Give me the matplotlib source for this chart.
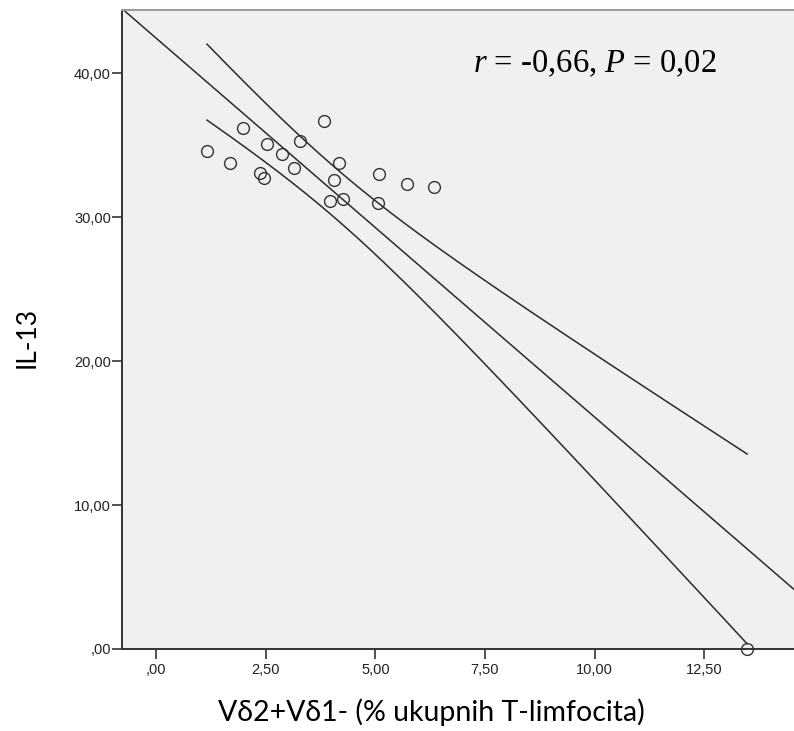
import numpy as np
import matplotlib.pyplot as plt

plt.rcParams['mathtext.fontset'] = 'custom'
plt.rcParams['mathtext.rm'] = 'Liberation Serif'
plt.rcParams['mathtext.it'] = 'Liberation Serif:italic'

# Vd2+Vd1- (% of T lymphocytes) vs IL-13
vd2 = [1.16, 1.69, 1.97, 2.37, 2.47, 2.52, 2.87, 3.15, 3.27, 3.83,
       4.18, 4.06, 3.97, 4.26, 5.08, 5.07, 5.72, 6.34, 13.48]
il13 = [34.6, 33.8, 36.2, 33.1, 32.7, 35.1, 34.4, 33.4, 35.3, 36.7,
        33.8, 32.6, 31.1, 31.25, 33.0, 31.0, 32.3, 32.1, 0.0]
xticks = [0, 2.5, 5, 7.5, 10, 12.5]
yticks = [0, 10, 20, 30, 40]
xlim = (-0.78, 14.55)
ylim = (0, 44.4)
T_CRIT = 2.110  # t(0.975, df=17)


def fmt(v):
    s = '%.2f' % v
    s = s.replace('.', ',')
    if s.startswith('0'):
        s = s[1:]
    return s


x = np.array(vd2)
y = np.array(il13)
n = len(x)
b, a = np.polyfit(x, y, 1)
resid = y - (a + b * x)
s = np.sqrt(np.sum(resid**2) / (n - 2))
sxx = np.sum((x - x.mean())**2)

fig = plt.figure(figsize=(7.94, 7.31), dpi=100)
ax = fig.add_axes([0.1537, 0.1122, 0.8463, 0.8741])
ax.set_facecolor('#f0f0f0')

# fit line over the whole axis, 95% band of the mean over the data range
xl = np.linspace(xlim[0], xlim[1], 200)
ax.plot(xl, a + b * xl, color='#2b2b2b', lw=1.1)
xb = np.linspace(x.min(), x.max(), 200)
half = T_CRIT * s * np.sqrt(1.0 / n + (xb - x.mean())**2 / sxx)
ax.plot(xb, a + b * xb + half, color='#2b2b2b', lw=1.1)
ax.plot(xb, a + b * xb - half, color='#2b2b2b', lw=1.1)

ax.plot(x, y, 'o', mfc='none', mec='#333333', ms=8.5, mew=1.0, clip_on=False)

ax.set_xlim(*xlim)
ax.set_ylim(*ylim)
ax.set_xticks(xticks)
ax.set_yticks(yticks)
ax.set_xticklabels([fmt(v) for v in xticks], fontsize=10.5, family='Liberation Sans', color='#222222')
ax.set_yticklabels([fmt(v) for v in yticks], fontsize=10.5, family='Liberation Sans', color='#222222')
ax.tick_params(axis='x', direction='out', length=7, width=1.2, color='#333333', pad=3)
ax.tick_params(axis='y', direction='out', length=7, width=1.2, color='#333333', pad=1)

for side in ['left', 'bottom']:
    ax.spines[side].set_color('#333333')
    ax.spines[side].set_linewidth(1.4)
ax.spines['top'].set_color('#9a9a9a')
ax.spines['top'].set_linewidth(1.4)
ax.spines['right'].set_visible(False)

ax.set_xlabel('Vδ2+Vδ1- (% ukupnih T-limfocita)', fontsize=20.5, family='Lato')
ax.xaxis.label.set_va('baseline')
ax.xaxis.set_label_coords(0.46, -0.113)
ax.set_ylabel('IL-13', fontsize=19, family='Lato')
ax.yaxis.label.set_va('baseline')
ax.yaxis.set_label_coords(-0.1295, 0.487)

ax.text(0.522, 0.903, r'$r$ = -0,66, $P$ = 0,02', transform=ax.transAxes,
        fontsize=23.5, family='Liberation Serif', ha='left', va='baseline')

fig.savefig('out.png', dpi=100)
